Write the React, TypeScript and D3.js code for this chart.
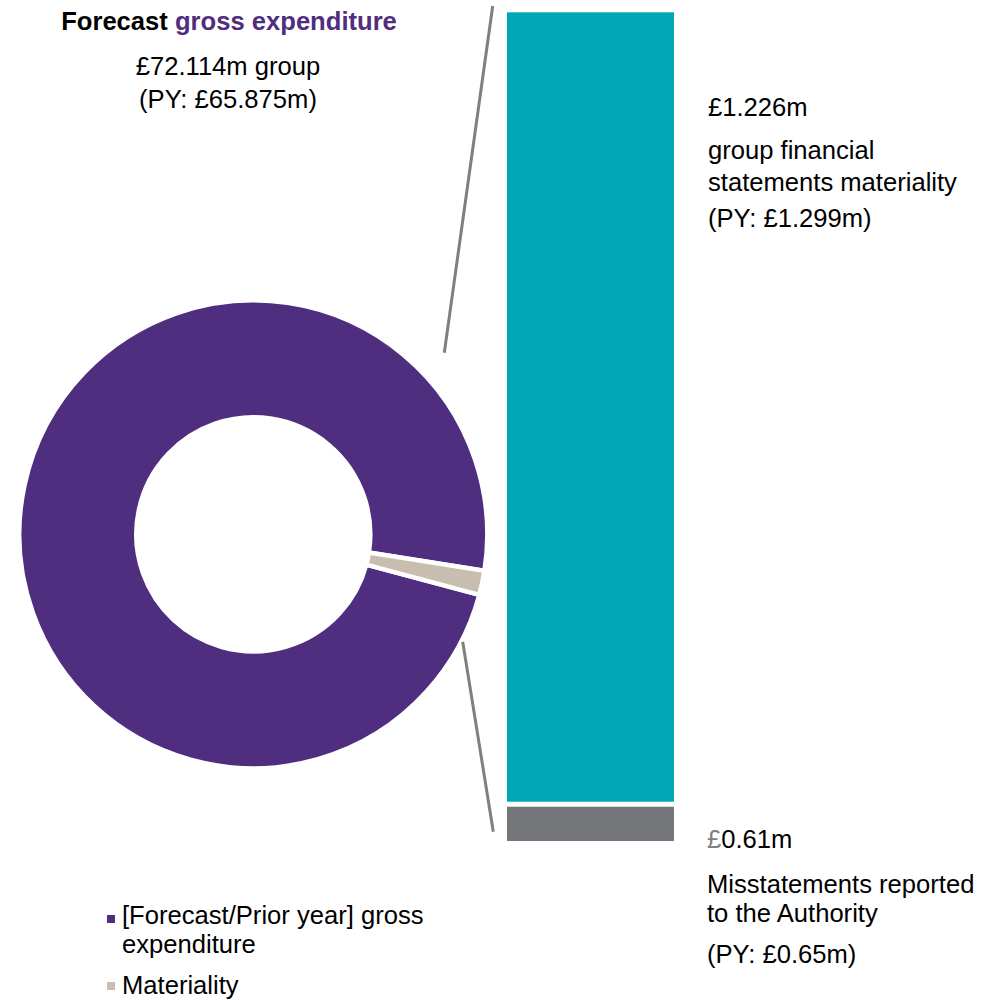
import React from "react";
import * as d3 from "d3";

// Donut: forecast gross expenditure vs materiality (£m)
const donutCategories = ["[Forecast/Prior year] gross expenditure", "Materiality"];
const donutValues = [72.114, 1.226];
const donutColors = ["#4F2D7F", "#C8BEAF"];

// Stacked bar (£m), bottom to top: trivial threshold (5% of materiality), materiality
const barCategories = ["Misstatements reported to the Authority", "group financial statements materiality"];
const barValues = [0.061, 1.226];
const barColors = ["#75767A", "#00A7B5"];

// Text blocks
const titleLines = ["£72.114m group", "(PY: £65.875m)"];
const materialityLabel = ["£1.226m", "group financial", "statements materiality", "(PY: £1.299m)"];
const misstatementLabel = ["0.61m", "Misstatements reported", "to the Authority", "(PY: £0.65m)"];

const W = 982;
const H = 1000;
const FONT = "'Liberation Sans', Arial, sans-serif";
const FS = 25.6;

export default function App() {
  const cx = 253.3;
  const cy = 534.3;
  const outerR = 234;
  const innerR = 117;

  // Materiality slice sits just below 3 o'clock
  const materialitySpan = (donutValues[1] / d3.sum(donutValues)) * 2 * Math.PI;
  const start = (105 * Math.PI) / 180;
  const pie = d3
    .pie<number>()
    .sort(null)
    .value((d) => d)
    .startAngle(start)
    .endAngle(start + 2 * Math.PI);
  const arcs = pie(donutValues);
  const arc = d3.arc<d3.PieArcDatum<number>>().innerRadius(innerR).outerRadius(outerR);
  void materialitySpan;

  // Bar geometry
  const barX = d3.scaleBand<string>().domain(["bar"]).range([507, 674]).padding(0);
  const total = d3.sum(barValues);
  const y = d3.scaleLinear().domain([0, total]).range([841, 12.3]);
  const stacked: { y0: number; y1: number; color: string; key: string }[] = [];
  let acc = 0;
  barValues.forEach((v, i) => {
    stacked.push({ y0: acc, y1: acc + v, color: barColors[i], key: barCategories[i] });
    acc += v;
  });
  const segGap = 5;

  const bx = barX("bar") as number;
  const bw = barX.bandwidth();

  return (
    <svg
      width={W}
      height={H}
      viewBox={`0 0 ${W} ${H}`}
      style={{ position: "absolute", left: 0, top: 0, background: "#fff" }}
      fontFamily={FONT}
    >
      {/* Title */}
      <text x={229} y={30} fontSize={FS} fontWeight="bold" textAnchor="middle" fill="#000">
        Forecast <tspan fill="#4F2D7F">gross expenditure</tspan>
      </text>
      {titleLines.map((t, i) => (
        <text key={t} x={228} y={75 + i * 32.5} fontSize={FS} textAnchor="middle" fill="#000">
          {t}
        </text>
      ))}

      {/* Donut */}
      <g transform={`translate(${cx},${cy})`}>
        {arcs.map((a, i) => (
          <path key={donutCategories[i]} d={arc(a) as string} fill={donutColors[i]} stroke="#fff" strokeWidth={4.5} />
        ))}
      </g>

      {/* Connector lines */}
      <line x1={444.3} y1={352.7} x2={492.7} y2={6} stroke="#7F7F7F" strokeWidth={3} />
      <line x1={462.7} y1={641.7} x2={493.3} y2={831.7} stroke="#7F7F7F" strokeWidth={3} />

      {/* Stacked bar */}
      {stacked.map((s, i) => {
        const top = y(s.y1) + (i === 0 ? segGap : 0);
        const bottom = y(s.y0);
        return <rect key={s.key} x={bx} y={top} width={bw} height={bottom - top} fill={s.color} />;
      })}

      {/* Materiality label */}
      {materialityLabel.map((t, i) => (
        <text key={t} x={708} y={[116, 159, 191, 227][i]} fontSize={FS} fill="#000">
          {t}
        </text>
      ))}

      {/* Misstatements label */}
      {misstatementLabel.map((t, i) => (
        <text key={t} x={707} y={[848, 893, 922, 963][i]} fontSize={FS} fill="#000">
          {i === 0 ? <tspan fill="#808080">£</tspan> : null}
          {t}
        </text>
      ))}

      {/* Legend */}
      <g>
        <rect x={107} y={915} width={8} height={8} fill={donutColors[0]} />
        <text x={122} y={924} fontSize={FS} fill="#000">
          [Forecast/Prior year] gross
        </text>
        <text x={122} y={953} fontSize={FS} fill="#000">
          expenditure
        </text>
        <rect x={107} y={982} width={8} height={8} fill={donutColors[1]} />
        <text x={122} y={994} fontSize={FS} fill="#000">
          {donutCategories[1]}
        </text>
      </g>
    </svg>
  );
}
